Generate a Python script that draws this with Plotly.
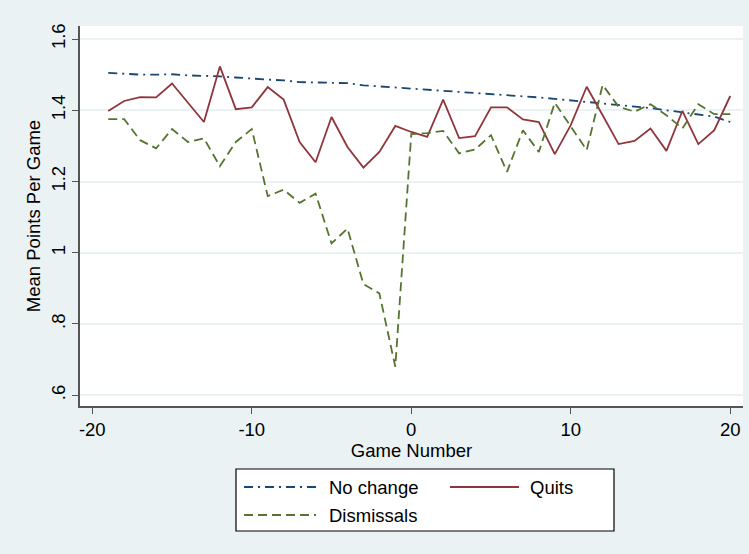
import plotly.graph_objects as go

# Game number relative to the managerial change
games = list(range(-19, 21))

# Mean points per game by group
no_change = [1.505, 1.502, 1.500, 1.500, 1.501, 1.498, 1.497, 1.495, 1.492, 1.488,
             1.486, 1.484, 1.479, 1.478, 1.477, 1.476, 1.470, 1.467, 1.464, 1.462,
             1.457, 1.455, 1.452, 1.449, 1.446, 1.443, 1.440, 1.436, 1.432, 1.428,
             1.424, 1.418, 1.414, 1.410, 1.406, 1.400, 1.394, 1.388, 1.382, 1.367]
quits = [1.398, 1.426, 1.437, 1.436, 1.475, 1.421, 1.367, 1.523, 1.403, 1.408,
         1.465, 1.430, 1.311, 1.254, 1.381, 1.297, 1.239, 1.283, 1.356, 1.339,
         1.325, 1.430, 1.322, 1.327, 1.408, 1.408, 1.374, 1.367, 1.277, 1.358,
         1.466, 1.386, 1.305, 1.314, 1.349, 1.286, 1.398, 1.305, 1.344, 1.440]
dismissals = [1.375, 1.375, 1.316, 1.293, 1.347, 1.311, 1.321, 1.243, 1.311, 1.347,
              1.159, 1.177, 1.140, 1.166, 1.026, 1.068, 0.912, 0.886, 0.680, 1.333,
              1.336, 1.342, 1.279, 1.290, 1.330, 1.227, 1.344, 1.283, 1.421, 1.355,
              1.288, 1.471, 1.410, 1.396, 1.417, 1.386, 1.349, 1.417, 1.389, 1.389]

x_ticks = [-20, -10, 0, 10, 20]
x_tick_text = ["-20", "-10", "0", "10", "20"]
y_ticks = [0.6, 0.8, 1.0, 1.2, 1.4, 1.6]
y_tick_text = [".6", ".8", "1", "1.2", "1.4", "1.6"]

NAVY = "#1A476F"
MAROON = "#90353B"
GREEN = "#55752F"
BG = "#EAF2F3"
FONT = "Liberation Sans, Arial, sans-serif"
FS = 18.5

series = [
    ("No change", no_change, NAVY, "9px,5px,2px,5px"),
    ("Quits", quits, MAROON, "solid"),
    ("Dismissals", dismissals, GREEN, "9px,5px"),
]

fig = go.Figure()
for name, vals, color, dash in series:
    fig.add_trace(go.Scatter(
        x=games, y=vals, mode="lines", name=name,
        line=dict(color=color, width=1.8, dash=dash),
        showlegend=False,
    ))

# Boxed legend below the plot, two columns
L, R, T, B = 80, 6, 26, 148
pw, ph = 749 - L - R, 554 - T - B


def px(xp):
    return (xp - L) / pw


def py(yp):
    return (554 - B - yp) / ph


shapes = [dict(type="rect", xref="paper", yref="paper",
               x0=px(236), x1=px(614), y0=py(531), y1=py(469),
               line=dict(color="black", width=1.2), fillcolor="white", layer="below")]
annotations = []
legend_items = [
    ("No change", NAVY, "9px,5px,2px,5px", 244, 316, 487, 327),
    ("Quits", MAROON, "solid", 450, 519, 487, 528),
    ("Dismissals", GREEN, "9px,5px", 244, 316, 515, 327),
]
for text, color, dash, x0, x1, yy, tx in legend_items:
    shapes.append(dict(type="line", xref="paper", yref="paper",
                       x0=px(x0), x1=px(x1), y0=py(yy), y1=py(yy),
                       line=dict(color=color, width=1.8, dash=dash)))
    annotations.append(dict(xref="paper", yref="paper", x=px(tx), y=py(yy),
                            text=text, showarrow=False, xanchor="left", yanchor="middle",
                            font=dict(size=FS, color="black", family=FONT)))

fig.update_layout(
    width=749, height=554,
    margin=dict(l=L, r=R, t=T, b=B),
    paper_bgcolor=BG, plot_bgcolor="white",
    font=dict(family=FONT, size=FS, color="black"),
    shapes=shapes, annotations=annotations,
    xaxis=dict(
        range=[-20.77, 20.8], tickvals=x_ticks, ticktext=x_tick_text,
        ticks="outside", ticklen=6,
        tickwidth=1.2, tickcolor="#555555", showgrid=False, zeroline=False,
        showline=True, linecolor="#555555", linewidth=1.5,
        title=dict(text="Game Number", standoff=4, font=dict(size=FS)),
        tickfont=dict(size=FS),
    ),
    yaxis=dict(
        range=[0.5698, 1.6365], tickvals=y_ticks, ticktext=y_tick_text,
        ticks="outside", ticklen=6, tickwidth=1.2, tickcolor="#555555",
        tickangle=-90, showgrid=True, gridcolor=BG, gridwidth=1.5,
        zeroline=False, showline=True, linecolor="#555555", linewidth=1.5,
        title=dict(text="Mean Points Per Game", standoff=2, font=dict(size=FS)),
        tickfont=dict(size=FS),
    ),
)

fig.write_html("out.html")
